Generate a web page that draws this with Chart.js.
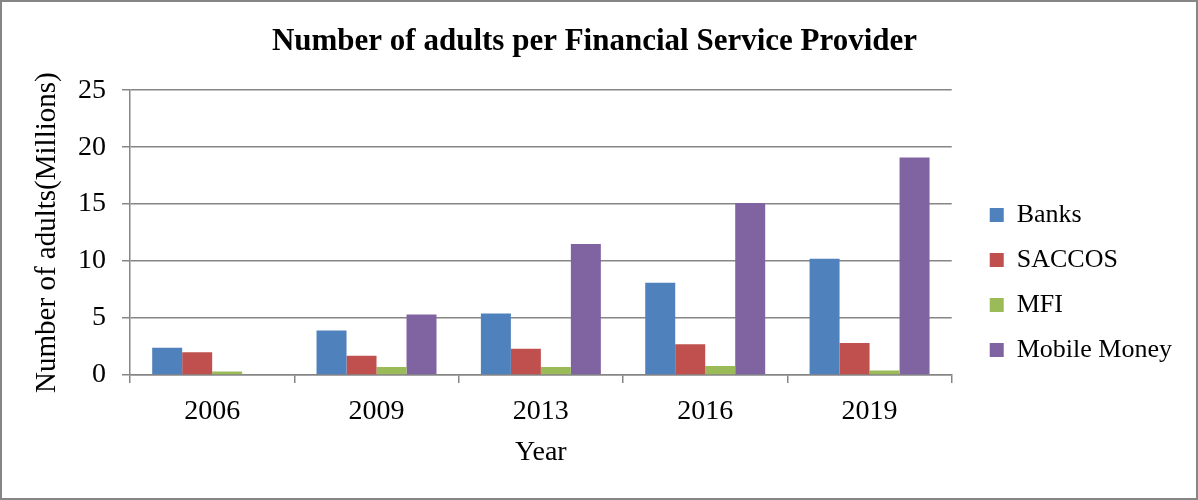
<!DOCTYPE html>
<html>
<head>
<meta charset="utf-8">
<script src="https://cdn.jsdelivr.net/npm/chart.js@4/dist/chart.umd.min.js"></script>
<style>
  html, body { margin: 0; padding: 0; background: #fff; }
  #wrap { width: 1198px; height: 500px; }
</style>
</head>
<body>
<div id="wrap"><canvas id="chart" width="1198" height="500"></canvas></div>
<script>
// Data
const years = ['2006', '2009', '2013', '2016', '2019'];
const banks = [2.4, 3.9, 5.4, 8.1, 10.2];
const saccos = [2.0, 1.7, 2.3, 2.7, 2.8];
const mfi = [0.3, 0.7, 0.7, 0.8, 0.4];
const mobileMoney = [0, 5.3, 11.5, 15.1, 19.1];
const yTicks = { min: 0, max: 25, step: 5 };

const axisGray = '#868686',
      serif = 'Liberation Serif';

// frame round the whole picture + legend nudge
const framePlugin = {
    id: 'frame',
    afterLayout(chart) {
        const lg = chart.legend;
        lg.left += 19; lg.right += 19;
        lg.top -= 91; lg.bottom -= 91;
    },
    beforeDraw(chart) {
        const c = chart.ctx;
        c.save();
        c.fillStyle = '#fff';
        c.fillRect(0, 0, chart.width, chart.height);
        c.strokeStyle = axisGray;
        c.lineWidth = 2;
        c.strokeRect(1, 1, chart.width - 2, chart.height - 2);
        c.restore();
    }
};

const ctx = document.getElementById('chart');

let providerChart = new Chart(ctx, {
    type: 'bar',
    data: {
        labels: years,
        datasets: [
            { label: 'Banks', data: banks, backgroundColor: '#4F81BD' },
            { label: 'SACCOS', data: saccos, backgroundColor: '#C0504D' },
            { label: 'MFI', data: mfi, backgroundColor: '#9BBB59' },
            { label: 'Mobile Money', data: mobileMoney, backgroundColor: '#8064A2' }
        ]
    },
    options: {
        responsive: false,
        animation: false,
        datasets: {
            bar: { categoryPercentage: 0.73, barPercentage: 1 }
        },
        layout: {
            padding: { left: 26, right: 35, top: 0, bottom: 27 }
        },
        plugins: {
            tooltip: { enabled: false },
            title: {
                display: true,
                text: 'Number of adults per Financial Service Provider',
                color: '#000',
                font: { family: serif, size: 31, weight: 'bold' },
                padding: { top: 23, bottom: 30 }
            },
            legend: {
                position: 'right',
                align: 'end',
                labels: {
                    boxWidth: 14,
                    boxHeight: 14,
                    padding: 19,
                    color: '#000',
                    font: { family: serif, size: 26 }
                }
            }
        },
        scales: {
            x: {
                grid: {
                    drawOnChartArea: false,
                    color: axisGray,
                    lineWidth: 1.5,
                    tickLength: 8
                },
                border: { color: axisGray, width: 1.5 },
                ticks: {
                    color: '#000',
                    padding: 12,
                    font: { family: serif, size: 28 }
                },
                title: {
                    display: true,
                    text: 'Year',
                    color: '#000',
                    font: { family: serif, size: 28 }
                },
                afterFit(scale) { scale.height = 98; }
            },
            y: {
                min: yTicks.min,
                max: yTicks.max,
                grid: {
                    color: axisGray,
                    lineWidth: 1.5,
                    tickLength: 8
                },
                border: { color: axisGray, width: 1.5 },
                ticks: {
                    stepSize: yTicks.step,
                    color: '#000',
                    padding: 16,
                    font: { family: serif, size: 28 }
                },
                title: {
                    display: true,
                    text: 'Number of adults(Millions)',
                    color: '#000',
                    font: { family: serif, size: 29 }
                },
                afterFit(scale) { scale.width = 104; }
            }
        }
    },
    plugins: [framePlugin]
});
</script>
</body>
</html>
